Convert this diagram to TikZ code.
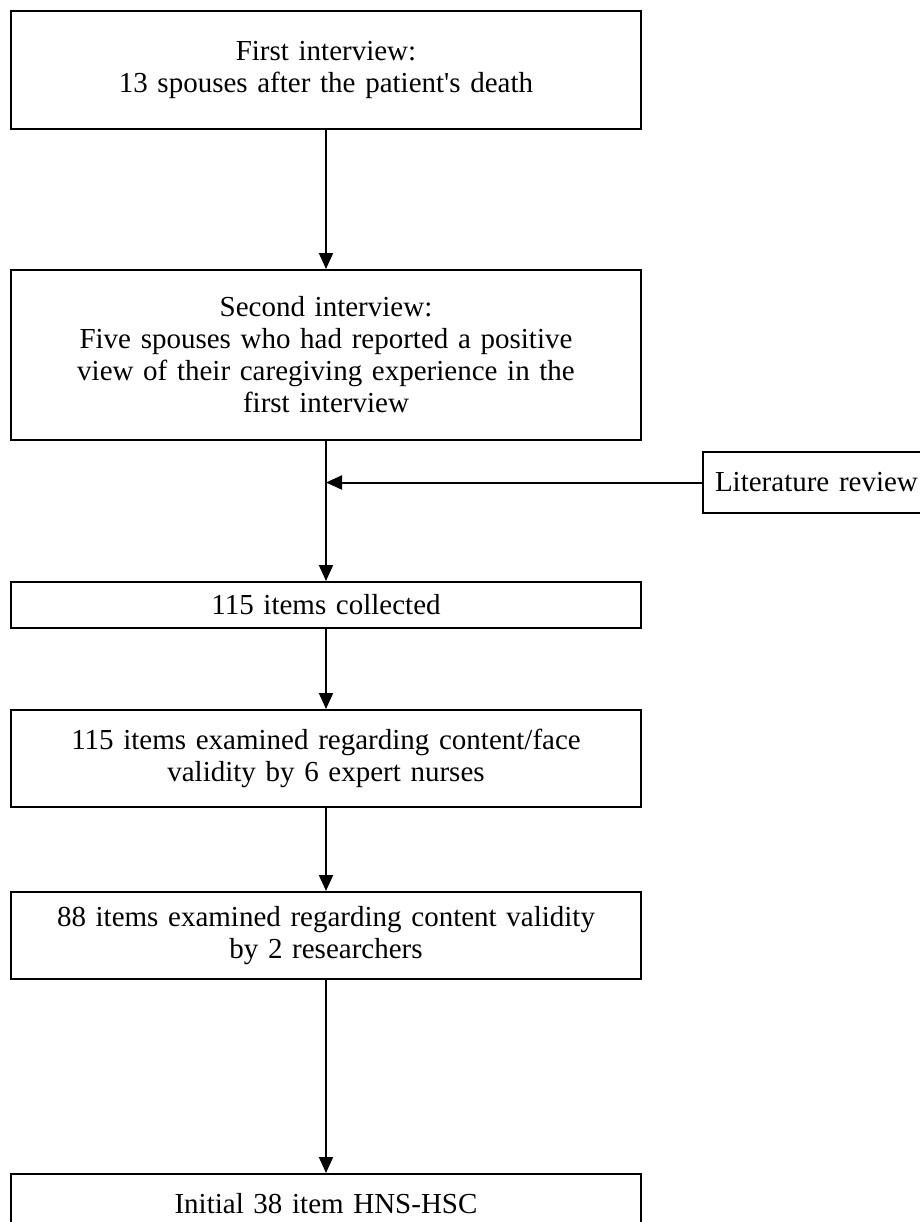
\documentclass[tikz,border=0pt]{standalone}
\usepackage{fontspec}
\setmainfont{Liberation Serif}
\usetikzlibrary{positioning,arrows.meta}
\tikzset{
  stage/.style={draw=black,line width=1pt,fill=white,align=center,
    font=\fontsize{14.5}{16}\selectfont,inner sep=4pt,text width=307pt},
  litbox/.style={draw=black,line width=1pt,fill=white,align=left,
    font=\fontsize{14.5}{16}\selectfont,inner xsep=6pt,text width=113pt,minimum height=30.5pt},
  flow/.style={-{Triangle[length=8pt,width=7pt]},draw=black,line width=1pt},
}
\begin{document}
\begin{tikzpicture}
  \useasboundingbox (0,0) rectangle (460pt,-611pt);
  \node[stage,anchor=north west,minimum height=59pt] (first) at (5pt,-5pt)
    {First interview:\\13 spouses after the patient\textquotesingle s death};
  \node[stage,below=69.5pt of first,minimum height=85pt] (second)
    {Second interview:\\Five spouses who had reported a positive\\view of their caregiving experience in the\\first interview};
  \node[stage,below=70pt of second,minimum height=23pt] (collected) {115 items collected};
  \node[stage,below=40pt of collected,minimum height=48.5pt] (face)
    {115 items examined regarding content/face\\validity by 6 expert nurses};
  \node[stage,below=41.5pt of face,minimum height=43.5pt] (content)
    {88 items examined regarding content validity\\by 2 researchers};
  \node[stage,below=96.5pt of content,minimum height=30pt] (initial) {Initial 38 item HNS-HSC};

  \node[litbox,anchor=north west] (lit) at ([xshift=30pt,yshift=-5pt]second.south east) {Literature review};

  \draw[flow] (first) -- (second);
  \draw[flow] (second) -- (collected);
  \draw[flow] (lit) -- (lit -| second.south);
  \draw[flow] (collected) -- (face);
  \draw[flow] (face) -- (content);
  \draw[flow] (content) -- (initial);
\end{tikzpicture}
\end{document}
